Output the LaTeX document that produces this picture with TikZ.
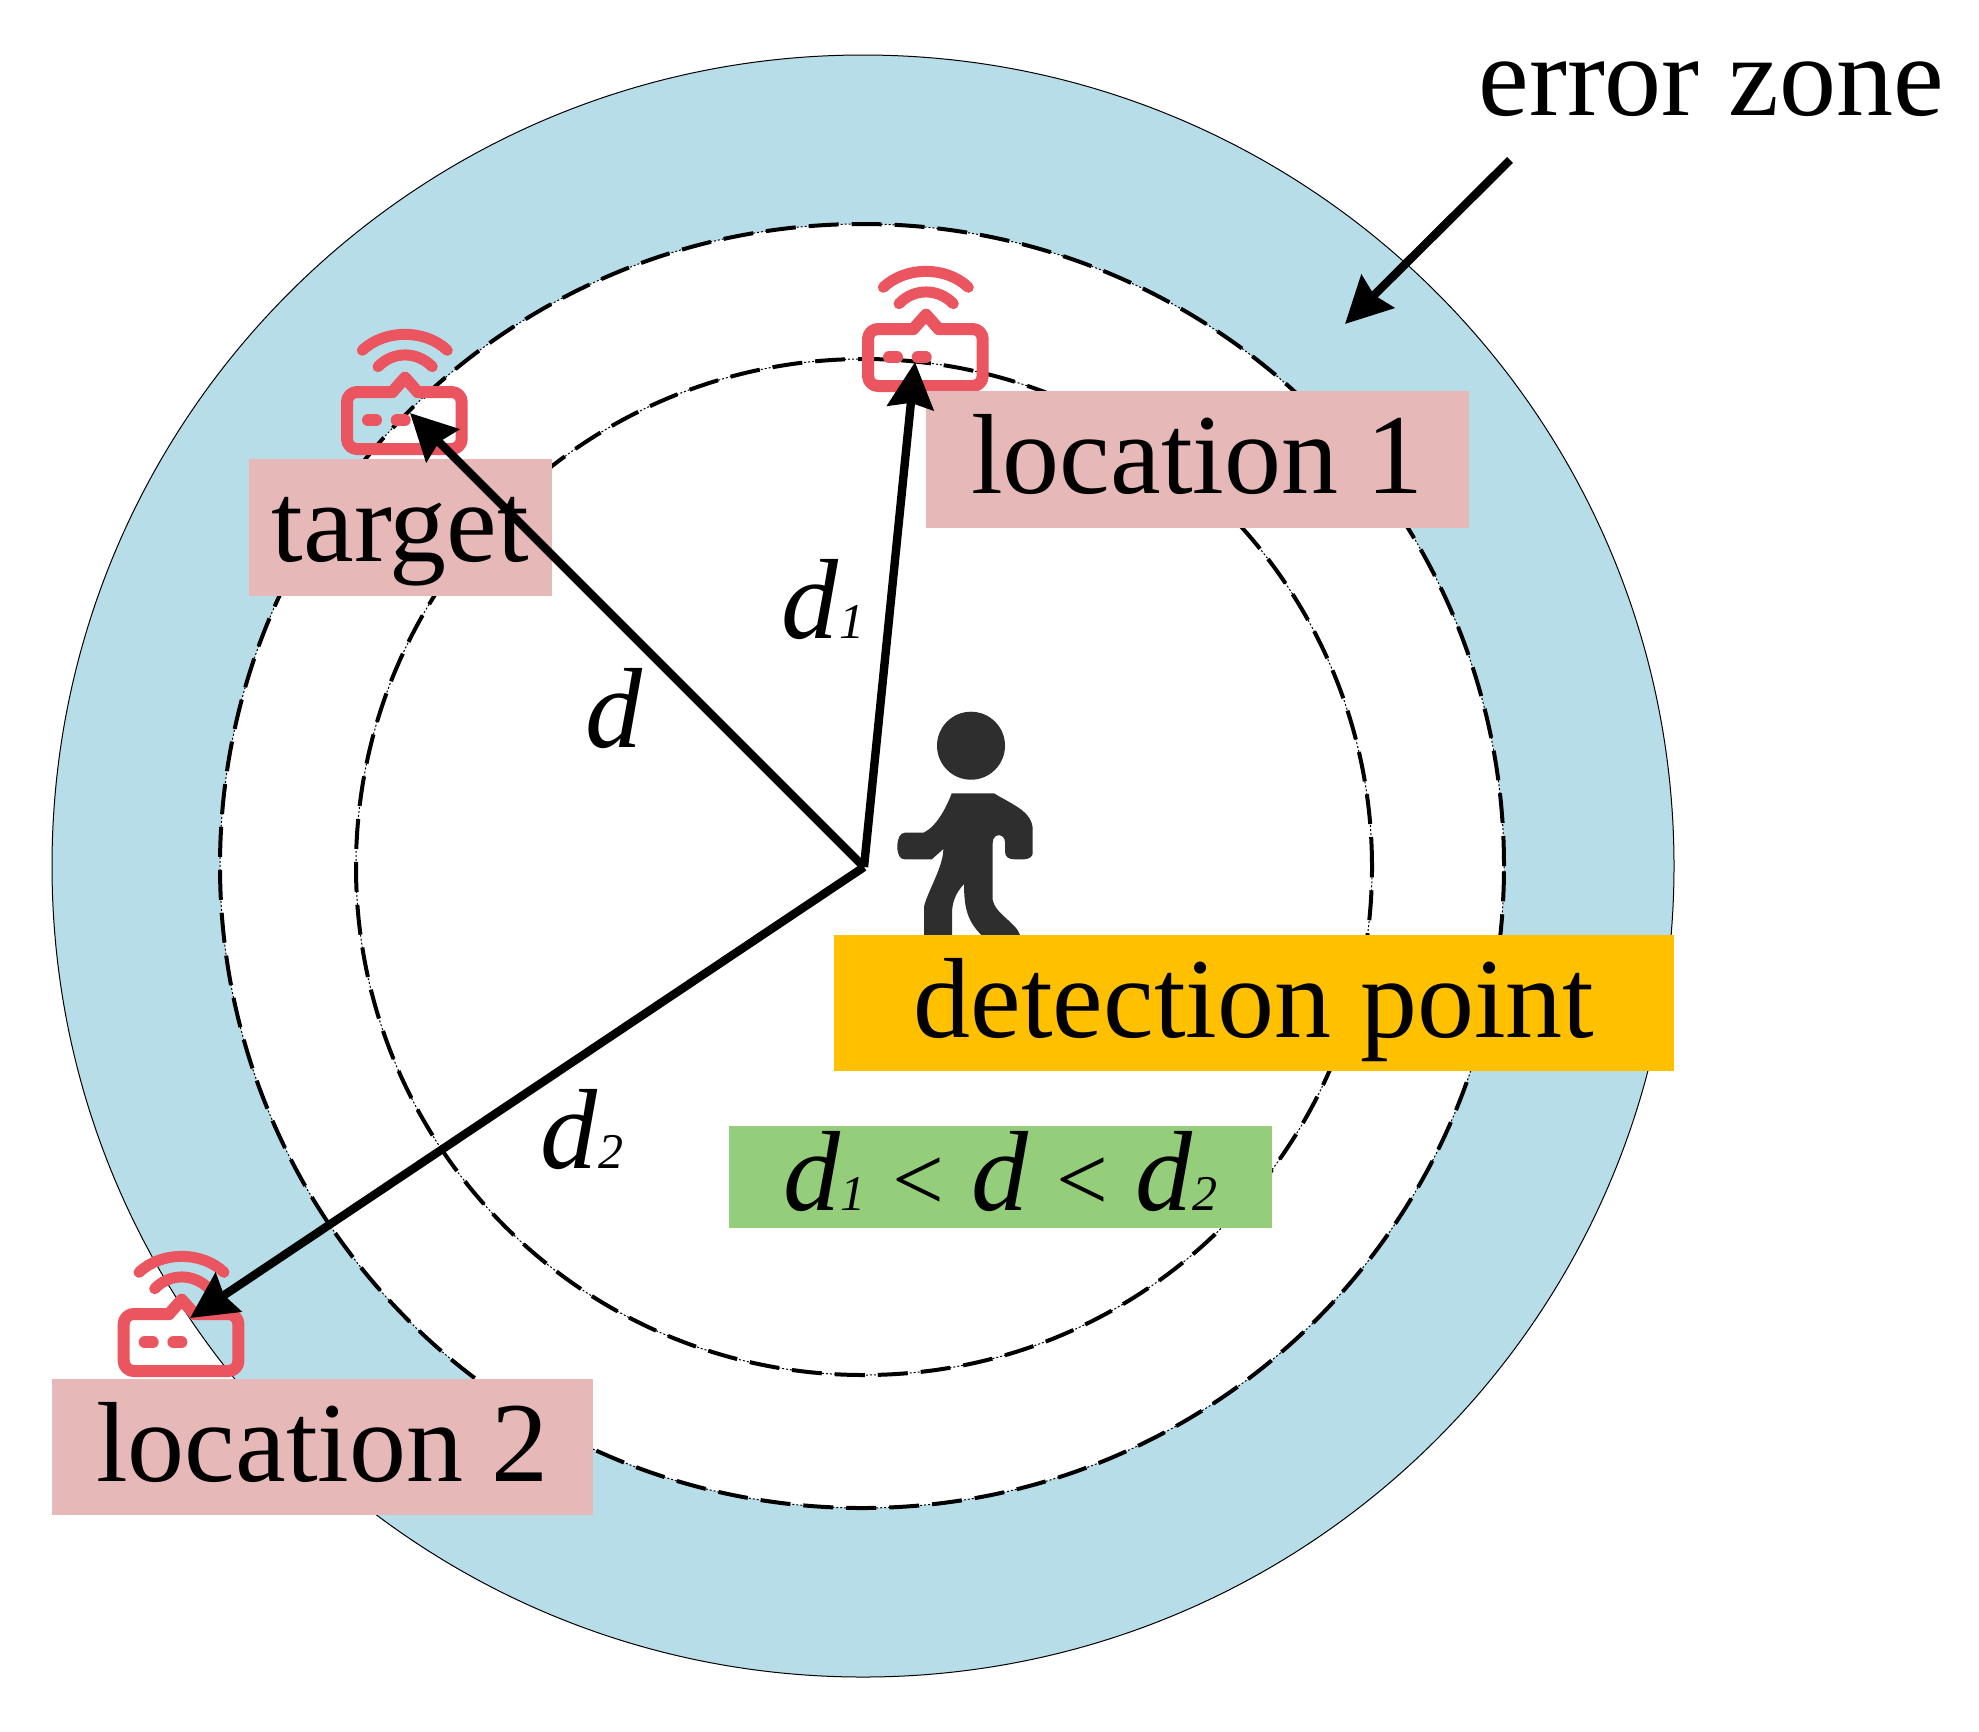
\documentclass[tikz,border=0pt]{standalone}
\usepackage{fontspec}
\setmainfont{Liberation Serif}
\usetikzlibrary{arrows.meta}
\definecolor{zoneblue}{HTML}{B7DDE8}
\definecolor{tagpink}{HTML}{E6B9B8}
\definecolor{tagorange}{HTML}{FFC000}
\definecolor{taggreen}{HTML}{94CE7B}
\definecolor{iconred}{HTML}{EB5560}
\definecolor{walker}{HTML}{2E2E2E}
\newcommand{\bigtext}{\fontsize{57pt}{60pt}\selectfont}
\newcommand{\subnum}[1]{{\fontsize{25pt}{25pt}\selectfont\textit{#1}}}
\newcommand{\lessnum}{{\fontsize{46pt}{46pt}\selectfont <}}
\newcommand{\tagtext}[2]{\smash{\raisebox{-#1}{#2}}}
\tikzset{
  x=0.5pt,y=-0.5pt,
  zonecircle/.style={draw=black,line width=0.5pt,fill=zoneblue},
  dashcircle/.style={draw=black,line width=0.5pt,fill=white,dash pattern=on 1pt off 1pt,
    postaction={draw=black,line width=2pt,dash pattern=on 15pt off 6.5pt}},
  tag/.style={inner sep=0pt,outer sep=0pt,font=\bigtext,text=black},
  radial/.style={line width=4.2pt,-{Stealth[length=23pt,width=23pt,inset=2.5pt]}},
  router/.style={line width=6pt,draw=iconred,line cap=round,line join=round},
  free/.style={font=\bigtext,inner sep=0pt,outer sep=0pt,anchor=base},
  pics/routericon/.style={code={
    \draw[router,rounded corners=5pt] (-12.7,21) -- (-58,21) -- (-58,78) -- (56.7,78) -- (56.7,21) -- (12.7,21);
    \draw[router] (-12.7,21) -- (0,6.7) -- (12.7,21);
    \draw[router,line width=5.5pt] (-42.7,-20.7) .. controls (-20,-42) and (20,-42) .. (42.3,-20.7);
    \draw[router,line width=5.5pt] (-27,-4.3) .. controls (-12,-20) and (12,-20) .. (27.3,-4.3);
    \draw[router] (-37,49.3) -- (-29,49.3);
    \draw[router] (-8.3,49.3) -- (-0.3,49.3);
  }}
}
\begin{document}
\begin{tikzpicture}
\useasboundingbox (0,0) rectangle (1979,1731);
\coordinate (centre) at (864,867);
% circles
\node[zonecircle,circle,minimum size=811pt,inner sep=0pt] (zone) at (863,866) {};
\node[dashcircle,circle,minimum size=642pt,inner sep=0pt] (midc) at (862,866) {};
\node[dashcircle,circle,minimum size=508pt,inner sep=0pt] (innc) at (864,867) {};
% walker
\fill[walker] (971,745.7) circle (17pt);
\begin{scope}[shift={(840,690)},x=0.1667pt,y=-0.1667pt]
\fill[walker] (335,310) -- (462,310) .. controls (520,345) and (578,365) .. (578,420) -- (578,490) .. controls (578,500) and (565,508) .. (550,508) -- (525,508) .. controls (505,508) and (495,500) .. (495,485) -- (495,458) .. controls (495,428) and (458,428) .. (458,458) -- (458,630) .. controls (465,670) and (530,700) .. (540,735) -- (424,735) .. controls (385,695) and (372,660) .. (372,582) .. controls (345,610) and (336,640) .. (336,670) -- (336,735) -- (252,735) -- (252,650) .. controls (260,610) and (310,530) .. (310,477) -- (275,508) -- (195,508) .. controls (180,508) and (172,495) .. (172,470) .. controls (172,445) and (180,428) .. (195,428) -- (250,428) .. controls (290,410) and (320,350) .. (335,310) -- cycle;
\end{scope}
% routers
\pic at (405,371) {routericon};
\pic at (926,308) {routericon};
\pic at (181.7,1293) {routericon};
% text boxes
\node[tag,fill=tagpink,minimum width=151.5pt,minimum height=68.5pt] (target) at (400.5,527.5) {\tagtext{17pt}{target}};
\node[tag,fill=tagpink,minimum width=271.5pt,minimum height=68.5pt] (loc1) at (1197.5,459.5) {\tagtext{17pt}{location 1}};
\node[tag,fill=tagpink,minimum width=270.5pt,minimum height=68pt] (loc2) at (322.5,1447) {\tagtext{17pt}{location 2}};
\node[tag,fill=tagorange,minimum width=420pt,minimum height=68pt] (detect) at (1254,1003) {\tagtext{17pt}{detection point}};
\node[tag,fill=taggreen,minimum width=271.5pt,minimum height=51pt] (rule) at (1000.5,1177) {\tagtext{16.5pt}{\textit{d}\subnum{1}\hspace{13.5pt}\lessnum\hspace{13.5pt}\textit{d}\hspace{13.5pt}\lessnum\hspace{13.5pt}\textit{d}\subnum{2}}};
% radial arrows
\coordinate (tipt) at (410,413);
\coordinate (tip1) at (915,362);
\coordinate (tip2) at (190,1318);
\draw[radial] (centre) -- (tipt);
\draw[radial] (centre) -- (tip1);
\draw[radial] (centre) -- (tip2);
% labels
\node[free] (dlabel) at (614,747) {\textit{d}};
\node[free] (d1label) at (823,638) {\textit{d}\subnum{1}};
\node[free] (d2label) at (582,1168) {\textit{d}\subnum{2}};
\node[free] (errlabel) at (1711,115) {error zone};
\coordinate (errstart) at (1510,160);
\coordinate (errtip) at (1345,324);
\draw[radial] (errstart) -- (errtip);
\end{tikzpicture}
\end{document}
